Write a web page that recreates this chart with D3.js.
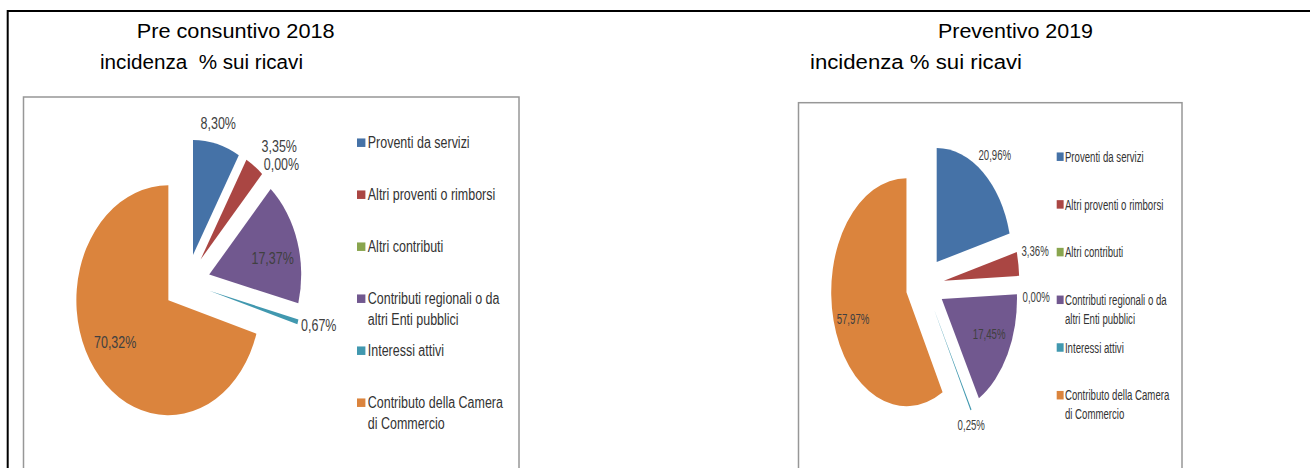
<!DOCTYPE html>
<meta charset="utf-8">
<head>
<style>
body { margin: 0; background: #fff; }
svg { display: block; font-family: "Liberation Sans", Arial, sans-serif; }
.title { font-size: 20px; fill: #000; white-space: pre; }
.frame { fill: none; stroke: #000; stroke-width: 2; }
.box { fill: #fff; stroke: #979797; stroke-width: 1.5; }
.legend text { fill: #333; }
.pct { fill: #404040; }
</style>
</head>
<body>
<svg width="1310" height="468"></svg>

<script src="https://d3js.org/d3.v7.min.js"></script>
<script>
const categories = [
    'Proventi da servizi',
    'Altri proventi o rimborsi',
    'Altri contributi',
    'Contributi regionali o da\naltri Enti pubblici',
    'Interessi attivi',
    'Contributo della Camera\ndi Commercio'
];
const colors = ['#4572A7', '#AA4643', '#89A54E', '#71588F', '#4198AF', '#DB843D'];
const values2018 = [8.30, 3.35, 0.00, 17.37, 0.67, 70.32];
const values2019 = [20.96, 3.36, 0.00, 17.45, 0.25, 57.97];
const titles = ['Pre consuntivo 2018', 'Preventivo 2019'];
const subtitles = ['incidenza  % sui ricavi', 'incidenza % sui ricavi'];
// which slices get their label inside the pie
const labelInside = [false, false, false, true, false, true];

let svg = d3.select('svg');

// italian number format: 8,30%
const it = d3.formatLocale({decimal: ',', thousands: '.', grouping: [3], currency: ['€', '']});
const pct = (v) => it.format('.2f')(v) + '%';

// outer black frame (top + left)
svg.append('path')
    .attr('class', 'frame')
    .attr('d', 'M7.7,470V11H1312');

// the two pasted charts: stretched horizontally by different amounts.
// nudge = manual label moves (screen px) like the ones done in Excel
let charts = [
    {values: values2018, title: titles[0], subtitle: subtitles[0],
     titleX: 136.7, titleW: 198, subX: 100, subW: 203,
     box: {x: 23.5, y: 97, w: 495.5},
     cx: 187, cy: 283, sx: 0.8, r: 115, explode: 29, fontSize: 15.6,
     legendX: 357, legendY: 142.7, legendStep: 52, lineH: 20.7, keyGap: 3,
     nudge: [[-4, -8], [12, -9], [3, -2], [0, 8], [0, 0], [0, -7]]},
    {values: values2019, title: titles[1], subtitle: subtitles[1],
     titleX: 938, titleW: 155, subX: 810, subW: 212,
     box: {x: 798.5, y: 102.7, w: 383.5},
     cx: 925, cy: 285, sx: 0.66, r: 114, explode: 29, fontSize: 14.6,
     legendX: 1056.7, legendY: 156.7, legendStep: 47.7, lineH: 18.8, keyGap: 2,
     nudge: [[0, -7], [0, -11], [0, 19], [0, -5], [-8, 4], [-1, 6]]}
];

charts.forEach((c) => {
    svg.append('text')
        .attr('class', 'title')
        .attr('x', c.titleX).attr('y', 38)
        .attr('textLength', c.titleW).attr('lengthAdjust', 'spacingAndGlyphs')
        .text(c.title);
    svg.append('text')
        .attr('class', 'title')
        .attr('x', c.subX).attr('y', 69)
        .attr('textLength', c.subW).attr('lengthAdjust', 'spacingAndGlyphs')
        .text(c.subtitle);

    svg.append('rect')
        .attr('class', 'box')
        .attr('x', c.box.x).attr('y', c.box.y)
        .attr('width', c.box.w).attr('height', 420);

    let g = svg.append('g')
        .attr('transform', `translate(${c.cx}, ${c.cy}) scale(${c.sx}, 1)`)
        .style('font-size', c.fontSize + 'px');

    let data = categories.map((name, i) => ({name: name, value: c.values[i], color: colors[i], inside: labelInside[i]}));
    let arcs = d3.pie().sort(null).value((d) => d.value)(data);
    arcs.forEach((a) => {
        a.mid = (a.startAngle + a.endAngle) / 2;
        a.ux = Math.sin(a.mid);
        a.uy = -Math.cos(a.mid);
    });
    let arc = d3.arc().innerRadius(0).outerRadius(c.r);

    // exploded slices
    g.selectAll('.slice')
        .data(arcs)
        .enter().append('path')
            .attr('class', 'slice')
            .attr('transform', (d) => `translate(${d.ux * c.explode}, ${d.uy * c.explode})`)
            .attr('d', arc)
            .attr('fill', (d) => d.data.color);

    // data labels: inside big slices, just outside the arc for the small ones
    let h = c.fontSize;
    g.selectAll('.pct')
        .data(arcs)
        .enter().append('text')
            .attr('class', 'pct')
            .attr('text-anchor', 'middle')
            .attr('dy', '0.35em')
            .text((d) => pct(d.data.value))
            .each(function (d, i) {
                let w = this.getComputedTextLength();
                let x, y;
                if (d.data.inside) {
                    x = d.ux * (c.explode + c.r * 0.72);
                    y = d.uy * (c.explode + c.r * 0.72);
                } else {
                    let rr = c.explode + c.r + 5;
                    x = d.ux * rr + d.ux * w / 2;
                    y = d.uy * rr + d.uy * h / 2;
                }
                x += c.nudge[i][0] / c.sx;
                y += c.nudge[i][1];
                d3.select(this).attr('x', x).attr('y', y);
            });

    // legend
    let keyW = 10.5;
    let legend = g.append('g').attr('class', 'legend');
    let items = legend.selectAll('g')
        .data(data)
        .enter().append('g')
            .attr('transform', (d, i) => `translate(${(c.legendX - c.cx) / c.sx}, ${c.legendY + i * c.legendStep - c.cy})`);
    items.append('rect')
        .attr('x', 0).attr('y', -4.25)
        .attr('width', keyW).attr('height', 8.5)
        .attr('fill', (d) => d.color);
    items.append('text')
        .selectAll('tspan')
        .data((d) => d.name.split('\n'))
        .enter().append('tspan')
            .attr('x', keyW + c.keyGap)
            .attr('y', (d, j) => j * c.lineH)
            .attr('dy', '0.35em')
            .text((d) => d);
});
</script>
</body>
</html>
